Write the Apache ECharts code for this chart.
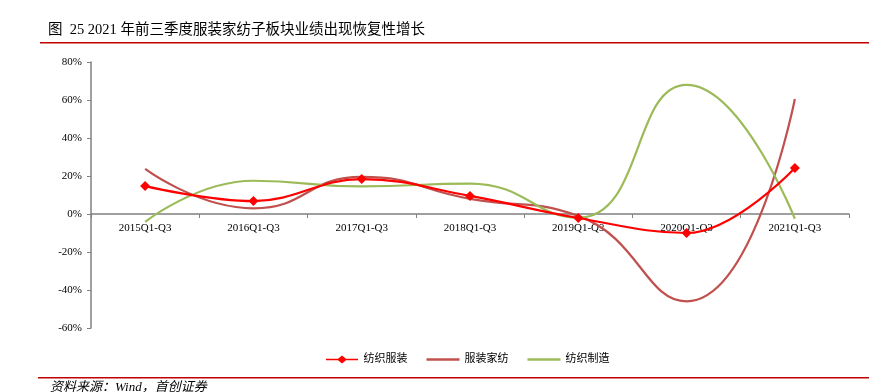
<!DOCTYPE html>
<html>
<head>
<meta charset="utf-8">
<script src="https://cdn.jsdelivr.net/npm/echarts@6/dist/echarts.min.js"></script>
<style>
  html, body { margin: 0; padding: 0; background: #fff; }
  #main { width: 869px; height: 392px; }
</style>
</head>
<body>
<div id="main"></div>
<script>
var categories = ['2015Q1-Q3', '2016Q1-Q3', '2017Q1-Q3', '2018Q1-Q3', '2019Q1-Q3', '2020Q1-Q3', '2021Q1-Q3'];
var apparelTextile = [14.7, 6.8, 18.4, 9.5, -2.1, -10.0, 24.2];
var homeTextile = [23.7, 3.0, 19.5, 8.0, -1.0, -46.0, 60.5];
var textileMfg = [-4.2, 17.5, 14.5, 16.0, -2.0, 68.0, -2.5];
var seriesNames = ['纺织服装', '服装家纺', '纺织制造'];

var serif = '"Liberation Serif", "Noto Sans CJK SC", serif';
// legend icons: plain line, and line with a diamond in the middle
var lineIcon = 'path://M0,0 L40,0 L40,3 L0,3 Z';
var diamondIcon = 'path://M0,4 L15,4 L20,0 L25,4 L40,4 L40,6 L25,6 L20,10 L15,6 L0,6 Z';

var dom = document.getElementById('main');
var myChart = echarts.init(dom);
var option = {
    animation: false,
    backgroundColor: '#fff',
    graphic: [
        {
            type: 'text', left: 48, top: 23,
            style: { text: '图  25 2021 年前三季度服装家纺子板块业绩出现恢复性增长', font: '14.5px ' + serif, fill: '#000' }
        },
        {
            type: 'rect', shape: { x: 40, y: 42, width: 829, height: 1.5 },
            style: { fill: '#c00000' }
        },
        {
            type: 'rect', shape: { x: 38, y: 377, width: 831, height: 1.5 },
            style: { fill: '#c00000' }
        },
        {
            type: 'text', left: 50, top: 381,
            style: { text: '资料来源：Wind，首创证券', font: 'italic 13px ' + serif, fill: '#000' }
        }
    ],
    legend: {
        data: [
            { name: seriesNames[0], icon: diamondIcon, itemStyle: { color: '#ff0000' } },
            { name: seriesNames[1], icon: lineIcon, itemStyle: { color: '#c0504d' } },
            { name: seriesNames[2], icon: lineIcon, itemStyle: { color: '#9bbb59' } }
        ],
        top: 349,
        left: 321,
        itemWidth: 33,
        itemHeight: 8,
        itemGap: 19,
        textStyle: { fontFamily: serif, fontSize: 11, color: '#000' }
    },
    grid: { left: 91, right: 20, top: 62, bottom: 64 },
    xAxis: {
        type: 'category',
        data: categories,
        boundaryGap: true,
        offset: -114,
        axisLine: { onZero: false, lineStyle: { color: '#808080', width: 1.5 } },
        axisTick: { show: true, inside: false, length: 4, lineStyle: { color: '#808080' } },
        axisLabel: { fontFamily: serif, fontSize: 11, color: '#000', margin: 9 }
    },
    yAxis: {
        type: 'value',
        min: -60,
        max: 80,
        interval: 20,
        splitLine: { show: false },
        axisLine: { show: true, lineStyle: { color: '#808080', width: 1.5 } },
        axisTick: { show: true, length: 4, lineStyle: { color: '#808080' } },
        axisLabel: { formatter: '{value}%', fontFamily: serif, fontSize: 11, color: '#000', margin: 9 }
    },
    series: [
        {
            name: seriesNames[0], type: 'line', data: apparelTextile, smooth: 0.4,
            symbol: 'diamond', symbolSize: 10, showAllSymbol: true, z: 5,
            lineStyle: { color: '#ff0000', width: 2.2 },
            itemStyle: { color: '#ff0000' }
        },
        {
            name: seriesNames[1], type: 'line', data: homeTextile, smooth: 0.5,
            symbol: 'none',
            lineStyle: { color: '#c0504d', width: 2.2 },
            itemStyle: { color: '#c0504d' }
        },
        {
            name: seriesNames[2], type: 'line', data: textileMfg, smooth: 0.5,
            symbol: 'none',
            lineStyle: { color: '#9bbb59', width: 2.2 },
            itemStyle: { color: '#9bbb59' }
        }
    ]
};
if (option && typeof option === "object") {
    myChart.setOption(option, true);
    window.onresize = myChart.resize;
}
</script>
</body>
</html>
